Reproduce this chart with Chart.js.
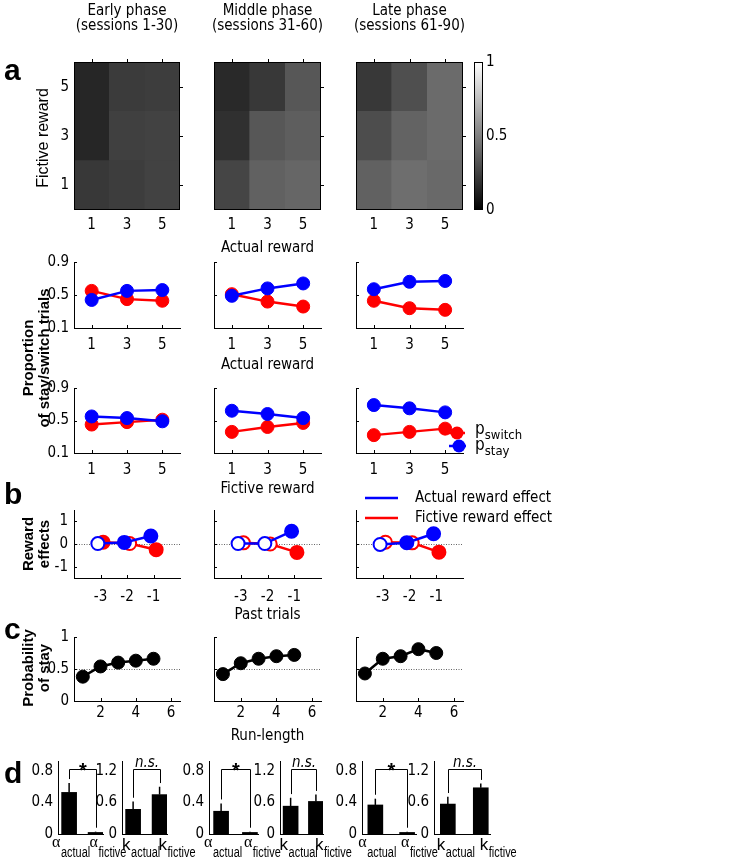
<!DOCTYPE html>
<html>
<head>
<meta charset="utf-8">
<script src="https://cdn.jsdelivr.net/npm/chart.js@4.4.1/dist/chart.umd.min.js"></script>
<style>
  body { margin: 0; background: #fff; }
  #fig { position: relative; width: 734px; height: 864px; overflow: hidden; color: #000;
         font-family: 'Liberation Sans Narrow', 'DejaVu Sans Condensed', 'Liberation Sans', sans-serif; }
  #fig canvas { position: absolute; }
  .t { position: absolute; white-space: nowrap; line-height: 1.15; }
  .t sub { font-size: 13px; vertical-align: -5px; line-height: 0; }
</style>
</head>
<body>
<div id="fig"></div>
<script>
// ---- data ----
const phaseTitles = ['Early phase', 'Middle phase', 'Late phase'];
const sessionTitles = ['(sessions 1-30)', '(sessions 31-60)', '(sessions 61-90)'];
const rewardLevels = [1, 3, 5];

// heat maps: rows = fictive reward 1,3,5 (bottom to top), cols = actual reward 1,3,5; gray level 0..1
const heatEarly  = [[0.22, 0.24, 0.26], [0.15, 0.25, 0.26], [0.15, 0.23, 0.24]];
const heatMiddle = [[0.27, 0.38, 0.40], [0.19, 0.34, 0.37], [0.16, 0.22, 0.34]];
const heatLate   = [[0.38, 0.43, 0.41], [0.30, 0.39, 0.42], [0.22, 0.31, 0.42]];

// proportion of stay / switch vs actual reward
const stayActualEarly  = [0.44, 0.55, 0.56];
const switchActualEarly = [0.55, 0.45, 0.43];
const stayActualMiddle = [0.49, 0.58, 0.64];
const switchActualMiddle = [0.51, 0.42, 0.36];
const stayActualLate   = [0.57, 0.66, 0.67];
const switchActualLate = [0.43, 0.34, 0.32];
const errActualEarly  = [0.03, 0.03, 0.03];
const errActualMiddle = [0.03, 0.05, 0.05];
const errActualLate   = [0.04, 0.05, 0.05];

// proportion of stay / switch vs fictive reward
const stayFictEarly  = [0.55, 0.53, 0.49];
const switchFictEarly = [0.45, 0.48, 0.51];
const stayFictMiddle = [0.62, 0.58, 0.53];
const switchFictMiddle = [0.36, 0.42, 0.47];
const stayFictLate   = [0.69, 0.65, 0.60];
const switchFictLate = [0.32, 0.36, 0.40];
const errFictEarly  = [0.03, 0.03, 0.02];
const errFictMiddle = [0.05, 0.05, 0.04];
const errFictLate   = [0.05, 0.05, 0.04];

// reward effects vs past trials (filled = significant)
const pastTrials = [-3, -2, -1];
const actualEffEarly  = [0.02, 0.07, 0.35];
const fictEffEarly    = [0.08, 0.02, -0.25];
const actualSigEarly  = [false, true, true];
const fictSigEarly    = [true, false, true];
const actualEffMiddle = [0.02, 0.02, 0.56];
const fictEffMiddle   = [0.05, 0.00, -0.37];
const actualSigMiddle = [false, false, true];
const fictSigMiddle   = [false, false, true];
const actualEffLate   = [-0.02, 0.06, 0.45];
const fictEffLate     = [0.08, 0.05, -0.36];
const actualSigLate   = [false, true, true];
const fictSigLate     = [false, false, true];

// probability of stay vs run length
const runLength = [1, 2, 3, 4, 5];
const runTicks = [2, 4, 6];
const pStayEarly  = [0.38, 0.54, 0.60, 0.63, 0.66];
const pStayMiddle = [0.42, 0.59, 0.66, 0.70, 0.72];
const pStayLate   = [0.43, 0.66, 0.70, 0.81, 0.75];
const pStayErrEarly  = [0.03, 0.02, 0.02, 0.03, 0.05];
const pStayErrMiddle = [0.03, 0.03, 0.05, 0.03, 0.03];
const pStayErrLate   = [0.02, 0.03, 0.02, 0.03, 0.02];

// model parameters
const alphaEarly  = [0.53, 0.02], alphaErrEarly  = [0.12, 0.01];
const alphaMiddle = [0.29, 0.02], alphaErrMiddle = [0.10, 0.01];
const alphaLate   = [0.37, 0.02], alphaErrLate   = [0.08, 0.01];
const kEarly  = [0.47, 0.75], kErrEarly  = [0.15, 0.15];
const kMiddle = [0.53, 0.62], kErrMiddle = [0.16, 0.13];
const kLate   = [0.57, 0.88], kErrLate   = [0.14, 0.08];
const alphaSig = ['*', '*', '*'];
const kSig = ['n.s.', 'n.s.', 'n.s.'];

const heats = [heatEarly, heatMiddle, heatLate];
const stayActual = [stayActualEarly, stayActualMiddle, stayActualLate];
const switchActual = [switchActualEarly, switchActualMiddle, switchActualLate];
const errActual = [errActualEarly, errActualMiddle, errActualLate];
const stayFict = [stayFictEarly, stayFictMiddle, stayFictLate];
const switchFict = [switchFictEarly, switchFictMiddle, switchFictLate];
const errFict = [errFictEarly, errFictMiddle, errFictLate];
const actualEff = [actualEffEarly, actualEffMiddle, actualEffLate];
const fictEff = [fictEffEarly, fictEffMiddle, fictEffLate];
const actualSig = [actualSigEarly, actualSigMiddle, actualSigLate];
const fictSig = [fictSigEarly, fictSigMiddle, fictSigLate];
const pStay = [pStayEarly, pStayMiddle, pStayLate];
const pStayErr = [pStayErrEarly, pStayErrMiddle, pStayErrLate];
const alphas = [alphaEarly, alphaMiddle, alphaLate];
const alphaErrs = [alphaErrEarly, alphaErrMiddle, alphaErrLate];
const ks = [kEarly, kMiddle, kLate];
const kErrs = [kErrEarly, kErrMiddle, kErrLate];

// ---- layout ----
const cols = [[74, 180], [214, 321], [356, 463]];
const alphaX = [[58, 103], [209, 258], [362, 416]];
const kX = [[122, 167], [280, 323], [434, 490]];
const BLUE = '#0000ff', RED = '#ff0000';
const P = 40;
const fig = document.getElementById('fig');

Chart.defaults.font.family = "'Liberation Sans Narrow', 'DejaVu Sans Condensed', 'Liberation Sans', sans-serif";
Chart.defaults.font.size = 15;
Chart.defaults.color = '#000';
Chart.defaults.animation = false;
Chart.defaults.plugins.legend.display = false;
Chart.defaults.plugins.tooltip.enabled = false;

// ---- plugins ----
const framePlugin = {
  id: 'frame',
  afterDraw(chart, args, o) {
    if (!o || !o.on) return;
    const { ctx, chartArea: a } = chart;
    ctx.save();
    ctx.strokeStyle = '#000';
    ctx.lineWidth = 1;
    ctx.strokeRect(Math.round(a.left) + 0.5, Math.round(a.top) + 0.5, Math.round(a.right - a.left) - 1, Math.round(a.bottom - a.top) - 1);
    ctx.restore();
  }
};

const inTicksPlugin = {
  id: 'inTicks',
  afterDraw(chart, args, o) {
    if (!o || !o.sides) return;
    const { ctx, chartArea: a } = chart;
    const L = o.len || 3;
    ctx.save();
    ctx.strokeStyle = '#000';
    ctx.lineWidth = 1;
    ctx.beginPath();
    o.sides.forEach(side => {
      const sc = (side === 'top' || side === 'bottom') ? chart.scales.x : chart.scales.y;
      sc.ticks.forEach((t, i) => {
        const p = Math.round(sc.getPixelForTick(i)) + 0.5;
        if (side === 'bottom') { ctx.moveTo(p, a.bottom); ctx.lineTo(p, a.bottom - L); }
        if (side === 'top') { ctx.moveTo(p, a.top); ctx.lineTo(p, a.top - L); }
        if (side === 'left') { ctx.moveTo(a.left, p); ctx.lineTo(a.left + L, p); }
        if (side === 'right') { ctx.moveTo(a.right, p); ctx.lineTo(a.right + L, p); }
      });
    });
    ctx.stroke();
    ctx.restore();
  }
};

const errorBarPlugin = {
  id: 'errorBars',
  beforeDatasetsDraw(chart) {
    const { ctx } = chart;
    chart.data.datasets.forEach((ds, i) => {
      if (!ds.errors || ds.oneSided) return;
      const meta = chart.getDatasetMeta(i);
      const ys = chart.scales[meta.yAxisID];
      ctx.save();
      ctx.strokeStyle = ds.borderColor;
      ctx.lineWidth = 1.5;
      meta.data.forEach((el, j) => {
        const v = ds.data[j].y;
        const e = ds.errors[j];
        ctx.beginPath();
        ctx.moveTo(el.x, ys.getPixelForValue(v - e));
        ctx.lineTo(el.x, ys.getPixelForValue(v + e));
        ctx.stroke();
      });
      ctx.restore();
    });
  },
  afterDatasetsDraw(chart) {
    // one-sided error bars sit on top of the bars
    const { ctx } = chart;
    chart.data.datasets.forEach((ds, i) => {
      if (!ds.errors || !ds.oneSided) return;
      const meta = chart.getDatasetMeta(i);
      const ys = chart.scales[meta.yAxisID];
      ctx.save();
      ctx.strokeStyle = '#000';
      ctx.lineWidth = 1.5;
      meta.data.forEach((el, j) => {
        const v = ds.data[j].y;
        ctx.beginPath();
        ctx.moveTo(el.x, ys.getPixelForValue(v));
        ctx.lineTo(el.x, ys.getPixelForValue(v + ds.errors[j]));
        ctx.stroke();
      });
      ctx.restore();
    });
  }
};

const refLinePlugin = {
  id: 'refLine',
  beforeDatasetsDraw(chart, args, o) {
    if (!o || o.value === undefined) return;
    const { ctx, chartArea: a } = chart;
    const y = Math.round(chart.scales.y.getPixelForValue(o.value)) + 0.5;
    ctx.save();
    ctx.strokeStyle = '#666';
    ctx.lineWidth = 1;
    ctx.setLineDash([1, 1.5]);
    ctx.beginPath();
    ctx.moveTo(a.left, y);
    ctx.lineTo(a.right, y);
    ctx.stroke();
    ctx.restore();
  }
};

const bracketPlugin = {
  id: 'bracket',
  afterDraw(chart, args, o) {
    if (!o || o.y === undefined) return;
    const { ctx } = chart;
    const ys = chart.scales.y;
    const pts = chart.getDatasetMeta(0).data;
    const x1 = Math.round(pts[0].x) + 0.5, x2 = Math.round(pts[1].x) + 0.5;
    const y = Math.round(ys.getPixelForValue(o.y)) + 0.5;
    ctx.save();
    ctx.strokeStyle = '#000';
    ctx.lineWidth = 1;
    ctx.beginPath();
    ctx.moveTo(x1, ys.getPixelForValue(o.legs[0]));
    ctx.lineTo(x1, y);
    ctx.lineTo(x2, y);
    ctx.lineTo(x2, ys.getPixelForValue(o.legs[1]));
    ctx.stroke();
    ctx.fillStyle = '#000';
    ctx.textAlign = 'center';
    ctx.textBaseline = 'alphabetic';
    if (o.text === '*') {
      ctx.font = "bold 20px 'Liberation Sans', sans-serif";
      ctx.fillText(o.text, (x1 + x2) / 2, y + 7);
    } else {
      ctx.font = "italic 15px 'Liberation Sans Narrow', 'DejaVu Sans Condensed', sans-serif";
      ctx.fillText(o.text, (x1 + x2) / 2, y - 3);
    }
    ctx.restore();
  }
};

// tick names with a subscript (alpha_actual ...), placed under each bar
const subLabelPlugin = {
  id: 'subLabels',
  afterDraw(chart, args, o) {
    if (!o || !o.items) return;
    const { ctx, chartArea: a } = chart;
    const bars = chart.getDatasetMeta(0).data;
    const subFont = "14px 'Liberation Sans', sans-serif";
    const squeeze = 0.78;
    ctx.save();
    ctx.fillStyle = '#000';
    ctx.textBaseline = 'alphabetic';
    ctx.textAlign = 'left';
    o.items.forEach(([m, s], i) => {
      const x = bars[i].x + o.offsets[i];
      ctx.font = o.mainFont;
      const wm = ctx.measureText(m).width;
      ctx.fillText(m, x, a.bottom + o.mainBase);
      ctx.font = subFont;
      ctx.save();
      ctx.translate(x + wm + 0.5, a.bottom + 23);
      ctx.scale(squeeze, 1);
      ctx.fillText(s, 0, 0);
      ctx.restore();
    });
    ctx.restore();
  }
};

Chart.register(framePlugin, inTicksPlugin, errorBarPlugin, refLinePlugin, bracketPlugin, subLabelPlugin);

// ---- helpers ----
function makeChart(x0, x1, y0, y1, l, b, r, config) {
  const cv = document.createElement('canvas');
  const w = (x1 - x0) + l + r + 2 * P, h = (y1 - y0) + b + 2 * P;
  cv.width = w; cv.height = h;
  cv.style.left = (x0 - l - P) + 'px';
  cv.style.top = (y0 - P) + 'px';
  cv.style.width = w + 'px'; cv.style.height = h + 'px';
  fig.appendChild(cv);
  const opts = config.options;
  opts.responsive = false;
  opts.maintainAspectRatio = false;
  opts.layout = { padding: P };
  Object.entries(opts.scales).forEach(([key, sc]) => {
    const isX = key[0] === 'x';
    sc.afterFit = s => {
      if (isX) { s.height = b; s.paddingLeft = 0; s.paddingRight = 0; }
      else { s.width = (s.options.position === 'right') ? r : l; s.paddingTop = 0; s.paddingBottom = 0; }
    };
  });
  return new Chart(cv, config);
}

function linAxis(min, max, tickVals, showLabels, pad) {
  return {
    type: 'linear', min: min, max: max, offset: false,
    afterBuildTicks: s => { s.ticks = tickVals.map(v => ({ value: v })); },
    ticks: { display: showLabels, padding: pad, autoSkip: false, maxRotation: 0, callback: v => String(v) },
    grid: { display: false, drawTicks: false },
    border: { display: true, color: '#000', width: 1 }
  };
}

function gray(v) {
  const c = Math.round(v * 255);
  return 'rgb(' + c + ',' + c + ',' + c + ')';
}

function pts(xs, ys, dx) {
  return xs.map((x, i) => ({ x: x + (dx || 0), y: ys[i] }));
}

function lineSet(xs, ys, color, errs, dx, fills) {
  return {
    data: pts(xs, ys, dx),
    errors: errs,
    borderColor: color,
    backgroundColor: color,
    borderWidth: 2.5,
    pointRadius: 6.5,
    pointBorderWidth: fills ? 2 : 1,
    pointBorderColor: color,
    pointBackgroundColor: fills ? fills.map(f => f ? color : '#fff') : color,
    tension: 0,
    clip: false
  };
}

function T(html, x, base, o) {
  o = o || {};
  const size = o.size || 15;
  const d = document.createElement('div');
  d.className = 't';
  d.style.fontSize = size + 'px';
  if (o.bold) d.style.fontWeight = 'bold';
  if (o.font) d.style.fontFamily = o.font;
  d.innerHTML = html;
  d.style.left = x + 'px';
  d.style.top = (base - 0.92 * size) + 'px';
  if (o.center) d.style.transform = 'translateX(-50%)';
  fig.appendChild(d);
}

function R(html, cx, cy, o) {
  o = o || {};
  const size = o.size || 15;
  const d = document.createElement('div');
  d.className = 't';
  d.style.fontSize = size + 'px';
  if (o.bold) d.style.fontWeight = 'bold';
  d.style.fontFamily = o.font || "'Liberation Sans', sans-serif";
  d.innerHTML = html;
  d.style.left = cx + 'px';
  d.style.top = cy + 'px';
  d.style.transform = 'translate(-50%,-50%) rotate(-90deg)';
  fig.appendChild(d);
}

// ---- row d: model parameters (built first so the rows above stack over it) ----
function barChart(xr, means, errs, yMax, yTicks, labels, offsets, mainFont, mainBase, sig, bracketY, gap) {
  const tops = means.map((m, i) => m + errs[i] + gap);
  makeChart(xr[0], xr[1], 761, 834, 40, 40, 0, {
    type: 'bar',
    data: {
      datasets: [{
        data: pts([1, 2], means),
        errors: errs,
        oneSided: true,
        backgroundColor: '#000',
        borderColor: '#000',
        borderWidth: 0,
        barThickness: 15
      }]
    },
    options: {
      scales: {
        x: linAxis(0.58, 2.28, [1, 2], false, 0),
        y: linAxis(0, yMax, yTicks, true, 5)
      },
      plugins: {
        bracket: { y: bracketY, legs: tops, text: sig },
        subLabels: { items: labels, offsets: offsets, mainFont: mainFont, mainBase: mainBase }
      }
    }
  });
}

[0, 1, 2].forEach(c => {
  barChart(alphaX[c], alphas[c], alphaErrs[c], 0.93, [0, 0.4, 0.8], [['α', 'actual'], ['α', 'fictive']], [-17, -6],
    "16px 'Liberation Serif', serif", 13, alphaSig[c], 0.83, 0.05);
  barChart(kX[c], ks[c], kErrs[c], 1.39, [0, 0.6, 1.2], [['k', 'actual'], ['k', 'fictive']], [-11, -1],
    "17px 'Liberation Sans', sans-serif", 16, kSig[c], 1.23, 0.07);
});

// ---- row a: heat maps ----
heats.forEach((grid, c) => {
  const [x0, x1] = cols[c];
  makeChart(x0, x1, 62, 210, c === 0 ? 40 : 0, 40, 0, {
    type: 'bar',
    data: {
      labels: rewardLevels.map(String),
      datasets: grid.map(row => ({
        data: row.map(() => 1),
        backgroundColor: row.map(gray),
        barPercentage: 1,
        categoryPercentage: 1,
        borderWidth: 0
      }))
    },
    options: {
      scales: {
        x: { stacked: true, grid: { display: false, drawTicks: false }, border: { display: false }, ticks: { padding: 6 } },
        y: {
          stacked: true, min: 0, max: 3,
          afterBuildTicks: s => { s.ticks = [0.5, 1.5, 2.5].map(v => ({ value: v })); },
          ticks: { display: c === 0, padding: 5, callback: v => String(rewardLevels[Math.floor(v)]) },
          grid: { display: false, drawTicks: false }, border: { display: false }
        }
      },
      plugins: { frame: { on: true }, inTicks: { sides: ['top', 'right'], len: 3 } }
    }
  });
});

// colour bar
const colorbarLevels = [1];
makeChart(474, 483, 62, 210, 0, 0, 40, {
  type: 'bar',
  data: {
    labels: [''],
    datasets: [{
      data: colorbarLevels,
      barPercentage: 1, categoryPercentage: 1, borderWidth: 0,
      backgroundColor: ctx => {
        const a = ctx.chart.chartArea;
        if (!a) return '#888';
        const grad = ctx.chart.ctx.createLinearGradient(0, a.bottom, 0, a.top);
        grad.addColorStop(0, '#000');
        grad.addColorStop(1, '#fff');
        return grad;
      }
    }]
  },
  options: {
    scales: {
      x: { display: false },
      y: Object.assign(linAxis(0, 1, [0, 0.5, 1], true, 3), { position: 'right', border: { display: false } })
    },
    plugins: { frame: { on: true } }
  }
});

// ---- rows 2 and 3: stay / switch proportions ----
[[262, 328, stayActual, switchActual, errActual], [388, 453, stayFict, switchFict, errFict]].forEach(([y0, y1, stay, sw, err]) => {
  cols.forEach(([x0, x1], c) => {
    makeChart(x0, x1, y0, y1, c === 0 ? 40 : 0, 40, 0, {
      type: 'line',
      data: {
        datasets: [
          lineSet(rewardLevels, stay[c], BLUE, err[c]),
          lineSet(rewardLevels, sw[c], RED, err[c])
        ]
      },
      options: {
        scales: { x: linAxis(0, 6, rewardLevels, true, 8), y: linAxis(0.1, 0.9, [0.1, 0.5, 0.9], c === 0, 5) },
        plugins: { inTicks: { sides: ['left', 'bottom'], len: 3 } }
      }
    });
  });
});

// ---- row b: reward effects ----
cols.forEach(([x0, x1], c) => {
  makeChart(x0, x1, 510, 578, c === 0 ? 40 : 0, 40, 0, {
    type: 'line',
    data: {
      datasets: [
        lineSet(pastTrials, actualEff[c], BLUE, null, -0.1, actualSig[c]),
        lineSet(pastTrials, fictEff[c], RED, null, 0.1, fictSig[c])
      ]
    },
    options: {
      scales: { x: linAxis(-4, 0, pastTrials, true, 10), y: linAxis(-1.5, 1.5, [-1, 0, 1], c === 0, 6) },
      plugins: { refLine: { value: 0 }, inTicks: { sides: ['left', 'bottom'], len: 3 } }
    }
  });
});

// ---- row c: probability of stay ----
cols.forEach(([x0, x1], c) => {
  makeChart(x0, x1, 637, 701, c === 0 ? 40 : 0, 30, 0, {
    type: 'line',
    data: { datasets: [lineSet(runLength, pStay[c], '#000', pStayErr[c])] },
    options: {
      scales: { x: linAxis(0.5, 6.5, runTicks, true, 3), y: linAxis(0, 1, [0, 0.5, 1], c === 0, 5) },
      plugins: { refLine: { value: 0.5 }, inTicks: { sides: ['left', 'bottom'], len: 3 } }
    }
  });
});

// ---- legends (page-level overlay) ----
const lg = document.createElement('canvas');
lg.width = 734; lg.height = 864;
lg.style.left = '0px'; lg.style.top = '0px';
fig.appendChild(lg);
const g = lg.getContext('2d');
function legendLine(xa, xb, y, color, marker) {
  g.strokeStyle = color; g.lineWidth = 2.5;
  g.beginPath(); g.moveTo(xa, y); g.lineTo(xb, y); g.stroke();
  if (marker) {
    g.fillStyle = color;
    g.beginPath(); g.arc(marker, y, 6.5, 0, Math.PI * 2); g.fill();
  }
}
legendLine(447, 465, 433, RED, 457);
legendLine(449, 466, 446, BLUE, 459);
legendLine(365, 398, 498, BLUE);
legendLine(365, 398, 518, RED);

// ---- shared text ----
phaseTitles.forEach((t, c) => {
  const cx = (cols[c][0] + cols[c][1]) / 2;
  T(t, cx, 16, { center: true });
  T(sessionTitles[c], cx, 31, { center: true });
});
const letterFont = "'Liberation Sans', sans-serif";
T('a', 4, 81, { size: 30, bold: true, font: letterFont });
T('b', 4, 505, { size: 30, bold: true, font: letterFont });
T('c', 4, 640, { size: 30, bold: true, font: letterFont });
T('d', 4, 784, { size: 30, bold: true, font: letterFont });

const midX = (cols[1][0] + cols[1][1]) / 2;
T('Actual reward', midX, 253, { center: true });
T('Actual reward', midX, 370, { center: true });
T('Fictive reward', midX, 494, { center: true });
T('Past trials', midX, 620, { center: true });
T('Run-length', midX, 741, { center: true });

R('Fictive reward', 43, 138, { size: 16 });
R('Proportion', 28, 358, { bold: true });
R('of stay/switch trials', 44, 358, { bold: true });
R('Reward', 28, 544, { bold: true });
R('effects', 44, 544, { bold: true });
R('Probability', 28, 668, { bold: true });
R('of stay', 44, 668, { bold: true });

T('p<sub>switch</sub>', 475, 435, { size: 17 });
T('p<sub>stay</sub>', 475, 451, { size: 17 });
T('Actual reward effect', 415, 503);
T('Fictive reward effect', 415, 523);
</script>
</body>
</html>
